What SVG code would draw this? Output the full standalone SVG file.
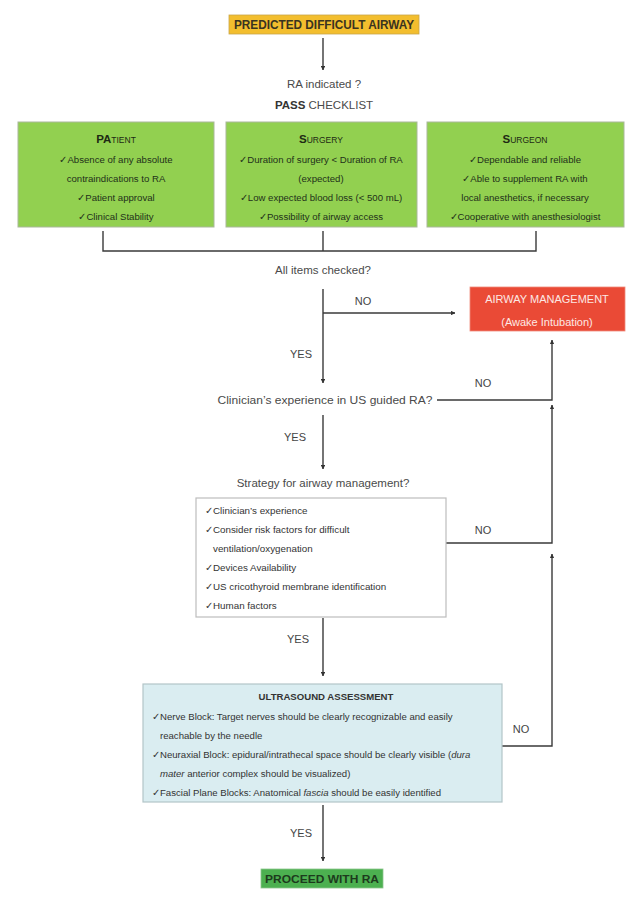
<svg xmlns="http://www.w3.org/2000/svg" width="643" height="904" viewBox="0 0 643 904">
<defs>
<marker id="ah" viewBox="0 0 6 6" refX="5.5" refY="3" markerWidth="4.5" markerHeight="4.5" markerUnits="userSpaceOnUse" orient="auto"><path d="M0,0 L6,3 L0,6 z" fill="#333"/></marker>
<style>
.t{font-family:"Liberation Sans",Arial,sans-serif;fill:#4a4a4a;}
.q{font-size:11.5px;text-anchor:middle;}
.lbl{font-size:11px;fill:#444;}
.g{font-family:"Liberation Sans",Arial,sans-serif;font-size:9.6px;fill:#22301a;text-anchor:middle;}
.gt{font-family:"Liberation Sans",Arial,sans-serif;fill:#1e2a14;text-anchor:middle;}
.w{font-family:"Liberation Sans",Arial,sans-serif;font-size:9.8px;fill:#333;}
.b{font-family:"Liberation Sans",Arial,sans-serif;font-size:9.6px;fill:#333;}
.gbox{fill:#92D050;stroke:#a9b89a;stroke-width:1;}
.ln{fill:none;stroke:#3a3a3a;stroke-width:1.4;}
</style>
</defs>

<g id="connectors">
<path class="ln" d="M323,38 V70" marker-end="url(#ah)"/>
<path class="ln" d="M103,231 V251 H536 V231"/>
<path class="ln" d="M323,231 V251"/>
<path class="ln" d="M323,289 V383" marker-end="url(#ah)"/>
<path class="ln" d="M323,313 H455" marker-end="url(#ah)"/>
<path class="ln" d="M437,400 H552 V340" marker-end="url(#ah)"/>
<path class="ln" d="M323,415 V469" marker-end="url(#ah)"/>
<path class="ln" d="M446,543 H552 V405" marker-end="url(#ah)"/>
<path class="ln" d="M323,618 V676" marker-end="url(#ah)"/>
<path class="ln" d="M502,746 H552 V554" marker-end="url(#ah)"/>
<path class="ln" d="M323,805 V861" marker-end="url(#ah)"/>
</g>

<g id="labels">
<text class="t lbl" x="363" y="305" text-anchor="middle">NO</text>
<text class="t lbl" x="301" y="358" text-anchor="middle">YES</text>
<text class="t lbl" x="483" y="387" text-anchor="middle">NO</text>
<text class="t lbl" x="295" y="441" text-anchor="middle">YES</text>
<text class="t lbl" x="483" y="534" text-anchor="middle">NO</text>
<text class="t lbl" x="298" y="643" text-anchor="middle">YES</text>
<text class="t lbl" x="521" y="733" text-anchor="middle">NO</text>
<text class="t lbl" x="301" y="837" text-anchor="middle">YES</text>
</g>

<g id="start">
<rect x="229" y="15" width="190" height="19" fill="#F3BE2E" stroke="#c9a54a" stroke-width="0.8"/>
<text class="t" x="324" y="29" font-size="12" font-weight="bold" text-anchor="middle" textLength="180" lengthAdjust="spacingAndGlyphs" style="fill:#3a3320">PREDICTED DIFFICULT AIRWAY</text>
</g>

<g id="ra-indicated">
<text class="t q" x="324" y="88">RA indicated ?</text>
<text class="t q" x="324" y="109"><tspan font-weight="bold" fill="#333">PASS</tspan> CHECKLIST</text>
</g>

<g id="patient">
<rect class="gbox" x="18" y="122" width="196" height="105"/>
<text class="gt" x="116" y="143"><tspan font-size="11.5" font-weight="bold">PA</tspan><tspan font-size="8.5">TIENT</tspan></text>
<text class="g" x="116" y="163">✓Absence of any absolute</text>
<text class="g" x="116" y="182">contraindications to RA</text>
<text class="g" x="116" y="201">✓Patient approval</text>
<text class="g" x="116" y="220">✓Clinical Stability</text>
</g>

<g id="surgery">
<rect class="gbox" x="226" y="122" width="191" height="105"/>
<text class="gt" x="321" y="143"><tspan font-size="11.5" font-weight="bold">S</tspan><tspan font-size="8.5">URGERY</tspan></text>
<text class="g" x="321" y="163">✓Duration of surgery &lt; Duration of RA</text>
<text class="g" x="321" y="182">(expected)</text>
<text class="g" x="321" y="201">✓Low expected blood loss (&lt; 500 mL)</text>
<text class="g" x="321" y="220">✓Possibility of airway access</text>
</g>

<g id="surgeon">
<rect class="gbox" x="427" y="122" width="197" height="105"/>
<text class="gt" x="525" y="143"><tspan font-size="11.5" font-weight="bold">S</tspan><tspan font-size="8.5">URGEON</tspan></text>
<text class="g" x="525" y="163">✓Dependable and reliable</text>
<text class="g" x="525" y="182">✓Able to supplement RA with</text>
<text class="g" x="525" y="201">local anesthetics, if necessary</text>
<text class="g" x="525" y="220">✓Cooperative with anesthesiologist</text>
</g>

<g id="all-items">
<text class="t q" x="323" y="274">All items checked?</text>
</g>

<g id="airway-management">
<rect x="470" y="287" width="155" height="44" fill="#EA4A36" stroke="#f08a7a" stroke-width="0.8"/>
<text x="547" y="303" font-family="Liberation Sans, Arial, sans-serif" font-size="11" fill="#fde8e4" text-anchor="middle">AIRWAY MANAGEMENT</text>
<text x="547" y="326" font-family="Liberation Sans, Arial, sans-serif" font-size="11" fill="#fde8e4" text-anchor="middle">(Awake Intubation)</text>
</g>

<g id="clinician">
<text class="t q" x="325" y="404" textLength="215" lengthAdjust="spacingAndGlyphs">Clinician’s experience in US guided RA?</text>
</g>

<g id="strategy">
<text class="t q" x="323" y="487">Strategy for airway management?</text>
<rect x="196" y="498" width="250" height="119" fill="#fff" stroke="#bdbdbd" stroke-width="1.2"/>
<text class="w" x="205" y="514">✓Clinician’s experience</text>
<text class="w" x="205" y="533">✓Consider risk factors for difficult</text>
<text class="w" x="213" y="552">ventilation/oxygenation</text>
<text class="w" x="205" y="571">✓Devices Availability</text>
<text class="w" x="205" y="590">✓US cricothyroid membrane identification</text>
<text class="w" x="205" y="609">✓Human factors</text>
</g>

<g id="ultrasound">
<rect x="143" y="684" width="359" height="118" fill="#DAEDF1" stroke="#b3c5c8" stroke-width="1.2"/>
<text class="b" x="326" y="700" font-size="8.8" font-weight="bold" text-anchor="middle" fill="#222">ULTRASOUND ASSESSMENT</text>
<text class="b" x="152" y="720">✓Nerve Block: Target nerves should be clearly recognizable and easily</text>
<text class="b" x="160" y="739">reachable by the needle</text>
<text class="b" x="152" y="758">✓Neuraxial Block: epidural/intrathecal space should be clearly visible (<tspan font-style="italic">dura</tspan></text>
<text class="b" x="160" y="777"><tspan font-style="italic">mater</tspan> anterior complex should be visualized)</text>
<text class="b" x="152" y="796">✓Fascial Plane Blocks: Anatomical <tspan font-style="italic">fascia</tspan> should be easily identified</text>
</g>

<g id="proceed">
<rect x="261" y="869" width="122" height="19" fill="#4CB050" stroke="#8cc68c" stroke-width="0.8"/>
<text x="322" y="883" font-family="Liberation Sans, Arial, sans-serif" font-size="11.5" font-weight="bold" fill="#1d3a1d" text-anchor="middle" textLength="114" lengthAdjust="spacingAndGlyphs">PROCEED WITH RA</text>
</g>
</svg>
